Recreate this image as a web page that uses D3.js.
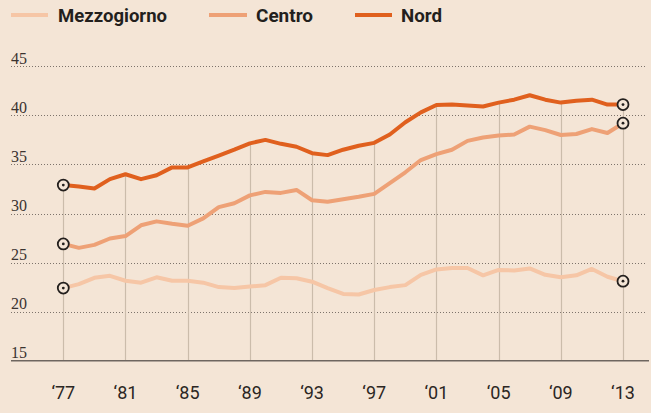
<!DOCTYPE html>
<html><head><meta charset="utf-8">
<script src="https://cdn.jsdelivr.net/npm/d3@7"></script>
<style>
html,body{margin:0;padding:0;background:#f4e5d6;}
svg{display:block;}
</style></head>
<body>
<svg id="c" width="651" height="413"></svg>
<script>
const years = d3.range(1977, 2014);
const seriesNames = ["Mezzogiorno", "Centro", "Nord"];
const seriesColors = ["#f6c6a6", "#eea176", "#e0601e"];
const mezzogiorno = [22.4,22.8,23.45,23.65,23.15,22.95,23.5,23.15,23.15,22.95,22.5,22.4,22.55,22.7,23.45,23.4,23.05,22.4,21.8,21.75,22.2,22.5,22.7,23.75,24.3,24.45,24.45,23.7,24.25,24.2,24.4,23.75,23.5,23.7,24.35,23.55,23.1];
const centro = [26.9,26.5,26.8,27.45,27.7,28.8,29.2,28.95,28.75,29.5,30.65,31.05,31.85,32.2,32.1,32.4,31.35,31.2,31.45,31.7,32.0,33.1,34.2,35.45,36.05,36.5,37.4,37.75,37.95,38.05,38.85,38.5,38.0,38.1,38.6,38.2,39.2];
const nord = [32.9,32.75,32.55,33.5,34.0,33.5,33.9,34.7,34.7,35.3,35.9,36.5,37.15,37.5,37.1,36.8,36.15,35.95,36.5,36.9,37.2,38.05,39.3,40.3,41.05,41.1,41.0,40.9,41.3,41.6,42.05,41.6,41.3,41.5,41.6,41.1,41.1];
const yTicks = [15,20,25,30,35,40,45];
const xTicks = [1977,1981,1985,1989,1993,1997,2001,2005,2009,2013];
const xTickLabels = ["\u201877","\u201881","\u201885","\u201889","\u201893","\u201897","\u201801","\u201805","\u201809","\u201813"];

const allSeries = [mezzogiorno, centro, nord];
const svg = d3.select("#c");
const x = d3.scaleLinear().domain([1977, 2013]).range([63.3, 623]);
const y = d3.scaleLinear().domain([15, 45]).range([360.7, 66.3]);
const left = 11, right = 647;

const g = svg.append("g");
yTicks.forEach(t => {
  if (t !== 15) {
    g.append("line").attr("x1", left).attr("x2", right)
      .attr("y1", Math.round(y(t)) + 0.5).attr("y2", Math.round(y(t)) + 0.5)
      .attr("stroke", "#7d736b").attr("stroke-width", 1).attr("stroke-dasharray", "1,2");
  }
  g.append("text").attr("x", left).attr("y", y(t) - 2.5)
    .attr("font-family", "'Liberation Serif', 'DejaVu Serif', serif")
    .attr("font-size", 16).attr("fill", "#3a3330").text(t);
});

xTicks.forEach((t, i) => {
  const v = nord[years.indexOf(t)];
  g.append("line").attr("x1", Math.round(x(t)) + 0.5).attr("x2", Math.round(x(t)) + 0.5)
    .attr("y1", y(15)).attr("y2", y(v))
    .attr("stroke", "#cbbcab").attr("stroke-width", 1.2);
  g.append("text").attr("x", x(t)).attr("y", 399)
    .attr("text-anchor", "middle")
    .attr("font-family", "Roboto, 'Open Sans', sans-serif")
    .attr("font-size", 18).attr("fill", "#2b2623").text(xTickLabels[i]);
});

g.append("line").attr("x1", left).attr("x2", 649)
  .attr("y1", y(15)).attr("y2", y(15))
  .attr("stroke", "#6e6660").attr("stroke-width", 1.5);

const line = d3.line().x((d, i) => x(years[i])).y(d => y(d));
allSeries.forEach((s, k) => {
  svg.append("path").datum(s).attr("d", line)
    .attr("fill", "none").attr("stroke", seriesColors[k])
    .attr("stroke-width", 4).attr("stroke-linejoin", "round");
});

allSeries.forEach(s => {
  [0, s.length - 1].forEach(i => {
    svg.append("circle").attr("cx", x(years[i])).attr("cy", y(s[i])).attr("r", 5.5)
      .attr("fill", "#f4e5d6").attr("stroke", "#231f1d").attr("stroke-width", 1.8);
    svg.append("circle").attr("cx", x(years[i])).attr("cy", y(s[i])).attr("r", 1.4)
      .attr("fill", "#231f1d");
  });
});

const legX = [[11, 48, 58], [209, 247, 256], [355, 392, 401]];
const legW = [109, 57, 41];
seriesNames.forEach((n, k) => {
  svg.append("line").attr("x1", legX[k][0]).attr("x2", legX[k][1])
    .attr("y1", 15).attr("y2", 15).attr("stroke", seriesColors[k]).attr("stroke-width", 4);
  svg.append("text").attr("x", legX[k][2]).attr("y", 22)
    .attr("font-family", "Roboto, 'Open Sans', sans-serif").attr("font-weight", "bold")
    .attr("font-size", 19).attr("fill", "#231f1d")
    .attr("textLength", legW[k]).attr("lengthAdjust", "spacingAndGlyphs").text(n);
});
</script>
</body></html>
